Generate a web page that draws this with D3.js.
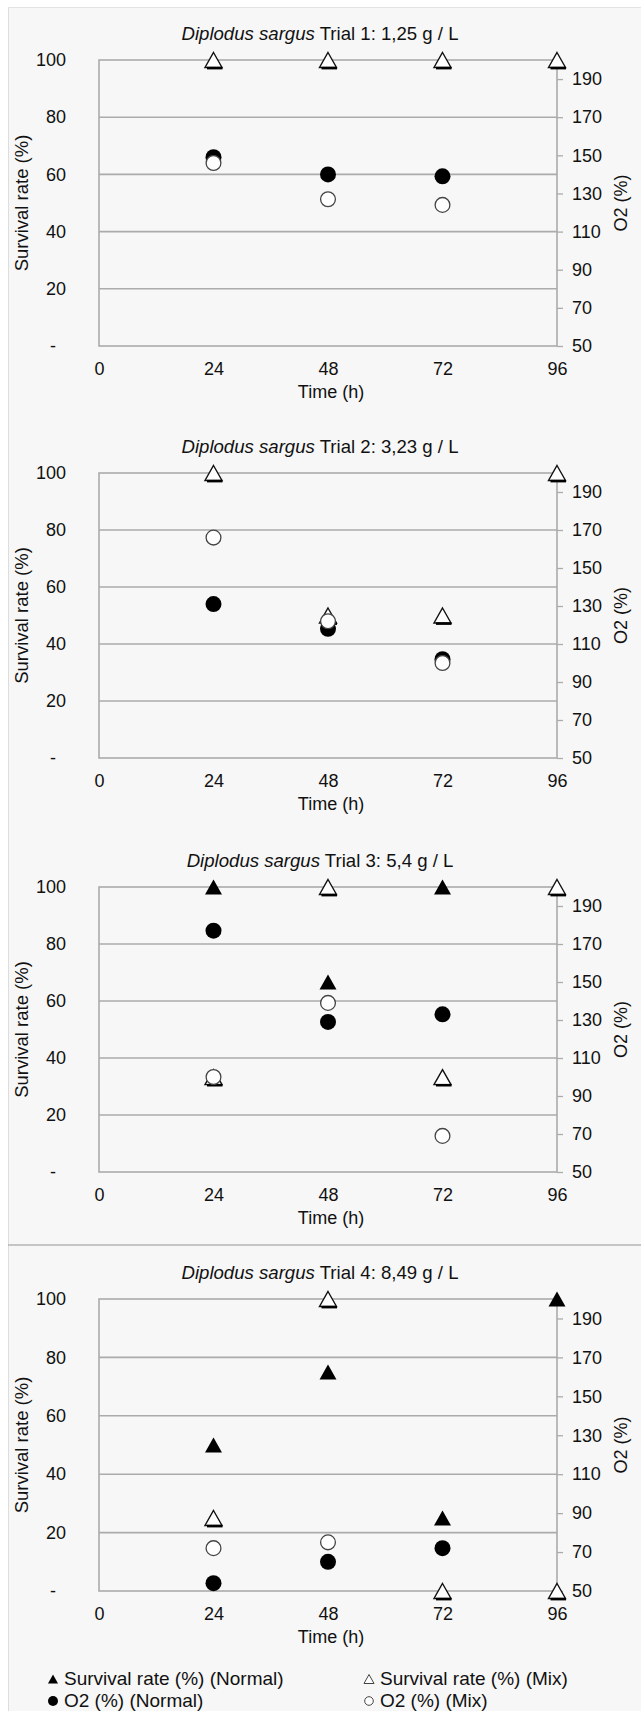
<!DOCTYPE html>
<html>
<head>
<meta charset="utf-8">
<script src="https://cdn.jsdelivr.net/npm/d3@7"></script>
<style>
  body { margin: 0; background: #fff; }
  svg { display: block; font-family: "Liberation Sans", Arial, sans-serif; }
</style>
</head>
<body>
<div id="chart"></div>
<script>
const hours = [24, 48, 72, 96];
const xTicks = [0, 24, 48, 72, 96];
const leftTicks = [0, 20, 40, 60, 80, 100];
const rightTicks = [50, 70, 90, 110, 130, 150, 170, 190];

const species = "Diplodus sargus";
const trialLabels = ["Trial 1: 1,25 g / L", "Trial 2: 3,23 g / L", "Trial 3: 5,4 g / L", "Trial 4: 8,49 g / L"];

// survival rate (%) per trial, at 24/48/72/96 h (null = not visible)
const survivalNormal = [
    [null, null, null, null],
    [null, null, null, null],
    [100, 66.7, 100, null],
    [50, 75, 25, 100]
];
const survivalMix = [
    [100, 100, 100, 100],
    [100, 50, 50, 100],
    [33.3, 100, 33.3, 100],
    [25, 100, 0, 0]
];
// O2 (%) per trial
const o2Normal = [
    [149, 140, 139, null],
    [131, 118, 102, null],
    [177, 129, 133, null],
    [54, 65, 72, null]
];
const o2Mix = [
    [146, 127, 124, null],
    [166, 122, 100, null],
    [100, 139, 69, null],
    [72, 75, null, null]
];

const legendLabels = ["Survival rate (%) (Normal)", "Survival rate (%) (Mix)", "O2 (%) (Normal)", "O2 (%) (Mix)"];

const W = 641, H = 1711;
const plotLeft = 99, plotRight = 557;
const plotTops = [60, 473, 887, 1299];
const plotBottoms = [346, 758, 1172, 1591];
const textColor = "#111";
const gridColor = "#ababab";

const svg = d3.select("#chart").append("svg")
    .attr("width", W)
    .attr("height", H);

// panel background and borders
svg.append("rect").attr("x", 0).attr("y", 0).attr("width", W).attr("height", H).attr("fill", "#fff");
svg.append("rect").attr("x", 8).attr("y", 7).attr("width", W - 8).attr("height", H - 7).attr("fill", "#f7f7f7");
svg.append("line").attr("x1", 8.5).attr("x2", 8.5).attr("y1", 7).attr("y2", H).attr("stroke", "#dddddd");
svg.append("line").attr("x1", 8).attr("x2", W).attr("y1", 7.5).attr("y2", 7.5).attr("stroke", "#e4e4e4");
svg.append("line").attr("x1", 8).attr("x2", W).attr("y1", 1245).attr("y2", 1245).attr("stroke", "#b5b5b5").attr("stroke-width", 1.6);

const triW = 17, triH = 15, circR = 8;
function triPath(w, h) {
    return `M0,${-h / 2}L${w / 2},${h / 2}L${-w / 2},${h / 2}Z`;
}

function drawTrial(i) {
    const top = plotTops[i], bottom = plotBottoms[i];
    const g = svg.append("g");

    const x = d3.scaleLinear().domain([0, 96]).range([plotLeft, plotRight]);
    const y = d3.scaleLinear().domain([0, 100]).range([bottom, top]);
    const y2 = d3.scaleLinear().domain([50, 200]).range([bottom, top]);

    // gridlines
    g.selectAll(".grid")
        .data(leftTicks.filter(d => d > 0 && d < 100))
        .enter().append("line")
        .attr("x1", plotLeft).attr("x2", plotRight)
        .attr("y1", d => y(d)).attr("y2", d => y(d))
        .attr("stroke", gridColor).attr("stroke-width", 1.6);

    g.append("rect")
        .attr("x", plotLeft).attr("y", top)
        .attr("width", plotRight - plotLeft).attr("height", bottom - top)
        .attr("fill", "none").attr("stroke", gridColor).attr("stroke-width", 1.6);

    // left axis
    const left = g.append("g")
        .attr("transform", `translate(${plotLeft},0)`)
        .call(d3.axisLeft(y).tickValues(leftTicks).tickSize(0).tickPadding(33)
            .tickFormat(d => d === 0 ? "-" : d));
    left.select(".domain").remove();
    left.selectAll("text").filter(d => d === 0).attr("dx", -10);

    // right axis
    const right = g.append("g")
        .attr("transform", `translate(${plotRight},0)`)
        .call(d3.axisRight(y2).tickValues(rightTicks).tickSize(6).tickPadding(9));
    right.select(".domain").remove();
    right.selectAll(".tick line").attr("stroke", gridColor).attr("stroke-width", 1.3);

    // bottom axis
    const bottomAxis = g.append("g")
        .attr("transform", `translate(0,${bottom})`)
        .call(d3.axisBottom(x).tickValues(xTicks).tickSize(0).tickPadding(16));
    bottomAxis.select(".domain").remove();

    g.selectAll(".tick text")
        .attr("fill", textColor)
        .style("font-size", "18px")
        .style("font-family", "'Liberation Sans', Arial, sans-serif");

    // titles
    const title = g.append("text")
        .attr("x", 320)
        .attr("y", top - 20)
        .attr("text-anchor", "middle")
        .attr("fill", textColor)
        .style("font-size", "18.6px");
    title.append("tspan").style("font-style", "italic").text(species);
    title.append("tspan").text(" " + trialLabels[i]);

    g.append("text")
        .attr("x", (plotLeft + plotRight) / 2 + 3)
        .attr("y", bottom + 52)
        .attr("text-anchor", "middle")
        .attr("fill", textColor)
        .style("font-size", "18px")
        .text("Time (h)");

    g.append("text")
        .attr("transform", `translate(22,${(top + bottom) / 2}) rotate(-90)`)
        .attr("dy", "0.35em")
        .attr("text-anchor", "middle")
        .attr("fill", textColor)
        .style("font-size", "18.5px")
        .text("Survival rate (%)");

    g.append("text")
        .attr("transform", `translate(621,${(top + bottom) / 2}) rotate(-90)`)
        .attr("dy", "0.35em")
        .attr("text-anchor", "middle")
        .attr("fill", textColor)
        .style("font-size", "18px")
        .text("O2 (%)");

    const pts = (arr) => hours.map((h, k) => ({ h, v: arr[i][k] })).filter(d => d.v !== null);

    // survival, normal (filled triangles)
    g.selectAll(".sn").data(pts(survivalNormal)).enter().append("path")
        .attr("d", triPath(triW, triH))
        .attr("transform", d => `translate(${x(d.h)},${y(d.v)})`)
        .attr("fill", "#000");

    // survival, mix (open triangles)
    const sm = g.selectAll(".sm").data(pts(survivalMix)).enter().append("g")
        .attr("transform", d => `translate(${x(d.h)},${y(d.v)})`);
    sm.append("path")
        .attr("d", triPath(triW, triH))
        .attr("fill", "#fff").attr("stroke", "#111").attr("stroke-width", 1.4)
        .attr("stroke-linejoin", "miter");
    sm.append("line")
        .attr("x1", -triW / 2 + 2).attr("x2", triW / 2 + 0.5)
        .attr("y1", triH / 2 + 0.6).attr("y2", triH / 2 + 0.6)
        .attr("stroke", "#000").attr("stroke-width", 2.6);

    // O2, normal (filled circles)
    g.selectAll(".on").data(pts(o2Normal)).enter().append("circle")
        .attr("cx", d => x(d.h)).attr("cy", d => y2(d.v))
        .attr("r", circR)
        .attr("fill", "#000");

    // O2, mix (open circles)
    g.selectAll(".om").data(pts(o2Mix)).enter().append("circle")
        .attr("cx", d => x(d.h)).attr("cy", d => y2(d.v))
        .attr("r", circR - 0.6)
        .attr("fill", "#fff").attr("stroke", "#444").attr("stroke-width", 1.3);
}

d3.range(4).forEach(drawTrial);

// legend
const legendCols = [48, 364];
const legendRows = [1678, 1700];
const legend = svg.append("g");
legendLabels.forEach((label, k) => {
    const cx = legendCols[k % 2] + 5;
    const cy = legendRows[Math.floor(k / 2)];
    if (k < 2) {
        legend.append("path")
            .attr("d", triPath(10, 9))
            .attr("transform", `translate(${cx},${cy + 1})`)
            .attr("fill", k === 0 ? "#000" : "#fff")
            .attr("stroke", k === 0 ? "none" : "#444")
            .attr("stroke-width", 1);
    } else {
        legend.append("circle")
            .attr("cx", cx).attr("cy", cy + 1)
            .attr("r", k === 2 ? 5 : 4.3)
            .attr("fill", k === 2 ? "#000" : "#fff")
            .attr("stroke", k === 2 ? "none" : "#444")
            .attr("stroke-width", 1);
    }
    legend.append("text")
        .attr("x", cx + 11)
        .attr("y", cy + 7)
        .attr("fill", textColor)
        .style("font-size", "19px")
        .text(label);
});
</script>
</body>
</html>
